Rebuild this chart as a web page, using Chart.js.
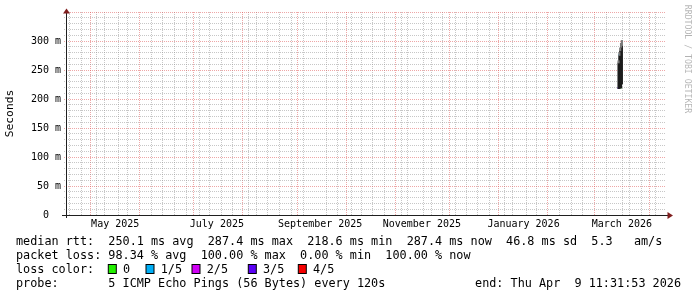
<!DOCTYPE html>
<html>
<head>
<meta charset="utf-8">
<script src="https://cdn.jsdelivr.net/npm/chart.js@4/dist/chart.umd.min.js"></script>
<style>
  html, body { margin: 0; padding: 0; background: #ffffff; }
  #wrap { width: 697px; height: 297px; position: relative; }
  canvas { display: block; }
</style>
</head>
<body>
<div id="wrap"><canvas id="c" width="697" height="297"></canvas></div>
<script>
// ---------------- data ----------------
const endTime = '2026-04-09 11:31:53';
const spanDays = 360;
const yMax = 350;
const yGridStep = 10;
const yTickValues = [0, 50, 100, 150, 200, 250, 300];
const yTickLabels = ['0  ', '50 m', '100 m', '150 m', '200 m', '250 m', '300 m'];
const monthLabels = ['May 2025', 'July 2025', 'September 2025', 'November 2025', 'January 2026', 'March 2026'];
const monthLabelDates = ['2025-05-01', '2025-07-01', '2025-09-01', '2025-11-01', '2026-01-01', '2026-03-01'];
const firstWeekLine = '2025-04-20';

// smoke samples (values in milliseconds, shown as "m")
const slotTimes = ['2026-03-12 00:00', '2026-03-12 12:00', '2026-03-13 00:00', '2026-03-13 12:00', '2026-03-14 00:00'];
const smokeLow  = [218, 218, 219, 219, 226];
const smokeHigh = [262, 275, 283, 289, 292];
const smokeTop  = [266, 280, 288, 296, 301];
const medianRtt = [219, 276, 275, 220, null];
const medianLoss = [3, 1, 1, 0, null];

const lossLabels = ['0', '1/5', '2/5', '3/5', '4/5'];
const lossColors = ['#22f000', '#00aef5', '#d000f5', '#5a00f5', '#f50000'];

const statLines = [
  'median rtt:  250.1 ms avg  287.4 ms max  218.6 ms min  287.4 ms now  46.8 ms sd  5.3   am/s',
  'packet loss: 98.34 % avg  100.00 % max  0.00 % min  100.00 % now'
];
const lossTitle = 'loss color:';
const probeText = 'probe:       5 ICMP Echo Pings (56 Bytes) every 120s';
const endText = 'end: Thu Apr  9 11:31:53 2026';
const yTitle = 'Seconds';
const watermark = 'RRDTOOL / TOBI OETIKER';

// ---------------- helpers ----------------
const DAY = 86400000;
function toMs(s) {
  const [d, t = '00:00:00'] = s.split(' ');
  const [Y, M, D] = d.split('-').map(Number);
  const [h, mi, se = 0] = t.split(':').map(Number);
  return Date.UTC(Y, M - 1, D, h, mi, se);
}
const xMax = toMs(endTime);
const xMin = xMax - spanDays * DAY;
const labelOffsetDays = 13;

const GRID = 'rgba(143,143,143,0.5)';
const MGRID = 'rgba(222,79,79,0.5)';
const AXIS = '#1f1f1f';
const ARROW = '#801f1f';
const MONO = '"DejaVu Sans Mono", "Liberation Mono", monospace';

const xKind = new Map();
const xLabel = new Map();
(function buildX() {
  for (let t = toMs(firstWeekLine); t <= xMax; t += 7 * DAY) xKind.set(t, 'minor');
  const s = new Date(xMin);
  let y = s.getUTCFullYear(), m = s.getUTCMonth() + 1;
  while (true) {
    if (m > 11) { m = 0; y++; }
    const t = Date.UTC(y, m, 1);
    if (t > xMax) break;
    xKind.set(t, 'major');
    m++;
  }
  monthLabelDates.forEach((d, i) => {
    const t = toMs(d) + labelOffsetDays * DAY;
    xKind.set(t, 'label');
    xLabel.set(t, monthLabels[i]);
  });
})();
const xTickValues = [...xKind.keys()].sort((a, b) => a - b);
const yGridValues = [];
for (let v = 0; v <= yMax; v += yGridStep) yGridValues.push(v);

function xGridColor(ctx) {
  if (!ctx.tick) return 'transparent';
  const k = xKind.get(ctx.tick.value);
  return k === 'major' ? MGRID : k === 'minor' ? GRID : 'transparent';
}
function yGridColor(ctx) {
  if (!ctx.tick) return 'transparent';
  const v = ctx.tick.value;
  if (v === 0) return 'transparent';
  return v % 50 === 0 ? MGRID : GRID;
}

// ---------------- decorations ----------------
const decor = {
  id: 'decor',
  afterDraw(chart) {
    const { ctx, chartArea: a } = chart;
    ctx.save();
    const yb = Math.round(a.bottom) + 0.5;
    const xl = Math.round(a.left) + 0.5;
    ctx.strokeStyle = AXIS;
    ctx.lineWidth = 1;
    ctx.setLineDash([]);
    ctx.beginPath();
    ctx.moveTo(a.left - 4, yb); ctx.lineTo(a.right + 2, yb);
    ctx.moveTo(xl, a.bottom + 3); ctx.lineTo(xl, a.top + 1);
    ctx.stroke();
    ctx.fillStyle = ARROW;
    ctx.beginPath();
    ctx.moveTo(a.right + 1.5, yb - 3.5); ctx.lineTo(a.right + 7, yb); ctx.lineTo(a.right + 1.5, yb + 3.5);
    ctx.closePath(); ctx.fill();
    ctx.beginPath();
    ctx.moveTo(xl - 3.5, a.top + 1.5); ctx.lineTo(xl, a.top - 3.5); ctx.lineTo(xl + 3.5, a.top + 1.5);
    ctx.closePath(); ctx.fill();

    // y title
    ctx.fillStyle = '#000';
    ctx.font = '11.3px ' + MONO;
    ctx.textAlign = 'center';
    ctx.textBaseline = 'middle';
    ctx.save();
    ctx.translate(10.5, (a.top + a.bottom) / 2);
    ctx.rotate(-Math.PI / 2);
    ctx.fillText(yTitle, 0, 0);
    ctx.restore();

    // watermark
    ctx.save();
    ctx.fillStyle = 'rgba(0,0,0,0.3)';
    ctx.font = '8.2px ' + MONO;
    ctx.translate(687, 59);
    ctx.rotate(Math.PI / 2);
    ctx.fillText(watermark, 0, 0);
    ctx.restore();

    // legend
    ctx.fillStyle = '#000';
    ctx.font = '11.8px ' + MONO;
    ctx.textAlign = 'left';
    ctx.textBaseline = 'alphabetic';
    const base = [244.8, 259, 273.1, 287.3];
    ctx.fillText(statLines[0], 16, base[0]);
    ctx.fillText(statLines[1], 16, base[1]);
    ctx.fillText(lossTitle, 16, base[2]);
    const boxX = [108.3, 146, 192, 248.3, 298.3];
    lossLabels.forEach((lab, i) => {
      ctx.fillStyle = lossColors[i];
      ctx.fillRect(boxX[i], 264.5, 8, 9);
      ctx.strokeStyle = '#000';
      ctx.lineWidth = 1;
      ctx.strokeRect(boxX[i], 264.5, 8, 9);
      ctx.fillStyle = '#000';
      ctx.fillText(lab, boxX[i] + 14.7, base[2]);
    });
    ctx.fillText(probeText, 16, base[3]);
    ctx.textAlign = 'right';
    ctx.fillText(endText, 681, base[3]);
    ctx.restore();
  }
};

// ---------------- chart ----------------
const smokeOuter = slotTimes.map((t, i) => ({ x: toMs(t), y: [smokeHigh[i], smokeTop[i]] }));
const smokeCore = slotTimes.map((t, i) => ({ x: toMs(t), y: [smokeLow[i], smokeHigh[i]] }));
const medians = slotTimes.map((t, i) => ({ x: toMs(t), y: medianRtt[i] }));
const medianColors = medianLoss.map(l => (l === null ? 'transparent' : lossColors[l]));

new Chart(document.getElementById('c'), {
  type: 'bar',
  data: {
    datasets: [
      { label: 'smoke outer', data: smokeOuter, backgroundColor: '#7a7a7a', barThickness: 1.5, grouped: false, borderWidth: 0 },
      { label: 'smoke', data: smokeCore, backgroundColor: '#1c1c1c', barThickness: 1.5, grouped: false, borderWidth: 0 },
      { type: 'scatter', label: 'median', data: medians, pointStyle: 'rect', pointRadius: 1.3,
        pointBackgroundColor: medianColors, pointBorderWidth: 0, borderWidth: 0 }
    ]
  },
  options: {
    responsive: false,
    animation: false,
    events: [],
    layout: { padding: { top: 12, right: 31, bottom: 0, left: 0 } },
    plugins: { legend: { display: false }, tooltip: { enabled: false } },
    scales: {
      x: {
        type: 'linear',
        min: xMin,
        max: xMax,
        offset: false,
        afterBuildTicks: s => { s.ticks = xTickValues.map(v => ({ value: v })); },
        afterFit: s => { s.height = 82; },
        ticks: {
          autoSkip: false, maxRotation: 0, minRotation: 0, padding: 1.5,
          color: '#000', font: { family: MONO, size: 10 },
          callback: v => xLabel.get(v) || ''
        },
        grid: { color: xGridColor, tickColor: xGridColor, tickLength: 2, lineWidth: 1, drawOnChartArea: true,
                borderDash: [1, 1], tickBorderDash: [1, 1] },
        border: { display: false, dash: [1, 1] }
      },
      y: {
        type: 'linear',
        min: 0,
        max: yMax,
        afterBuildTicks: s => { s.ticks = yGridValues.map(v => ({ value: v })); },
        afterFit: s => { s.width = 66; },
        ticks: {
          autoSkip: false, padding: 3, color: '#000', font: { family: MONO, size: 10 },
          callback: v => { const i = yTickValues.indexOf(v); return i >= 0 ? yTickLabels[i] : ''; }
        },
        grid: { color: yGridColor, tickColor: yGridColor, tickLength: 2, lineWidth: 1,
                borderDash: [1, 1], tickBorderDash: [1, 1] },
        border: { display: false, dash: [1, 1] }
      }
    }
  },
  plugins: [decor]
});
</script>
</body>
</html>
